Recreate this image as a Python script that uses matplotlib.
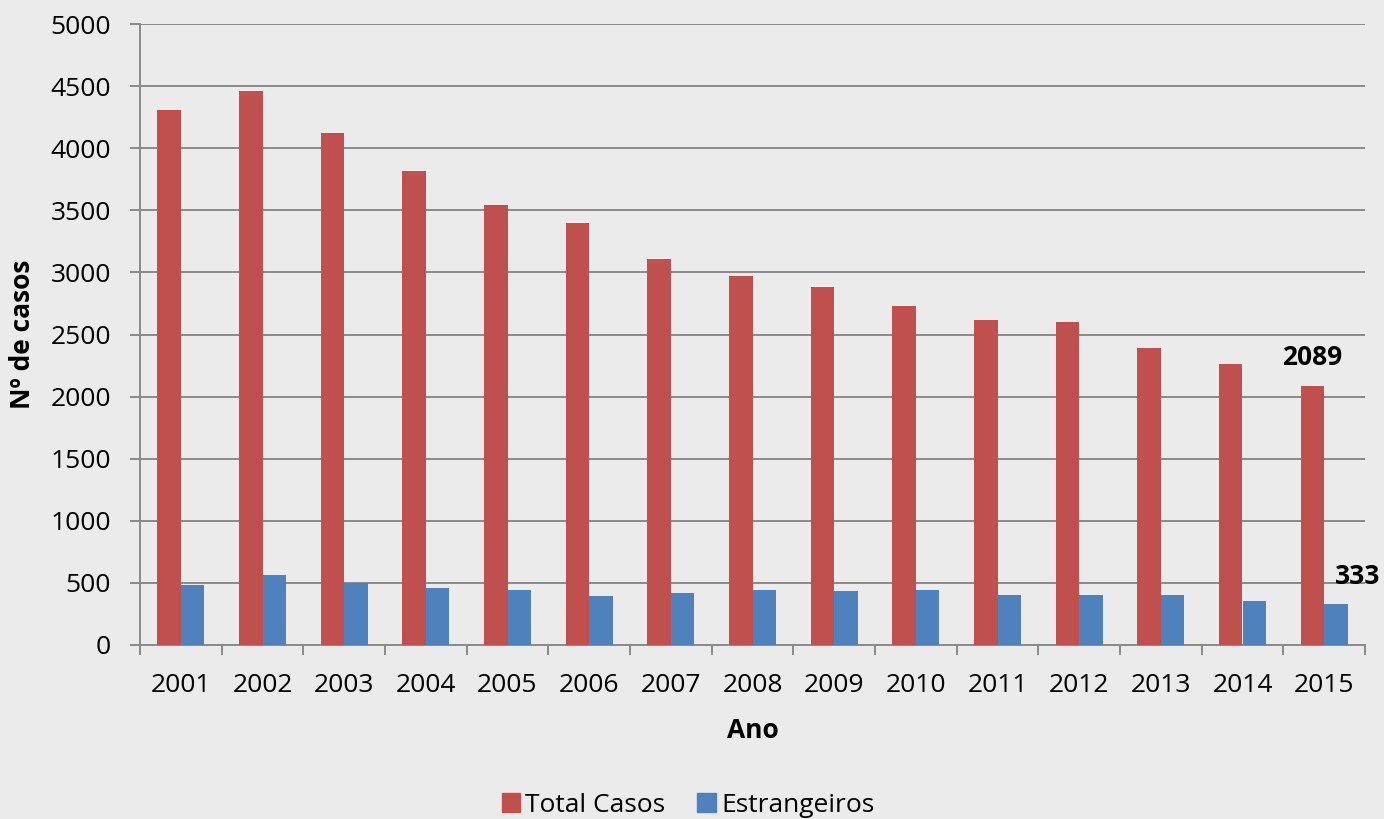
import numpy as np
import matplotlib
matplotlib.use("Agg")
import matplotlib.pyplot as plt
from matplotlib.patches import Patch

# data
anos = ["2001", "2002", "2003", "2004", "2005", "2006", "2007", "2008",
        "2009", "2010", "2011", "2012", "2013", "2014", "2015"]
total_casos = [4306, 4460, 4120, 3818, 3545, 3398, 3108, 2970, 2882, 2728,
               2615, 2600, 2392, 2264, 2089]
estrangeiros = [485, 565, 500, 458, 442, 395, 420, 442, 436, 442,
                404, 401, 404, 355, 333]

plt.rcParams["font.family"] = ["Open Sans", "DejaVu Sans"]

bg = "#ebebeb"
red = "#c0504d"
blue = "#4f81bd"
grid_c = "#8a8a8a"
fs = 19

fig = plt.figure(figsize=(13.84, 8.19), dpi=100, facecolor=bg)
ax = fig.add_axes([140 / 1384, 174 / 819, 1225 / 1384, 621 / 819])
ax.set_facecolor(bg)

x = np.arange(len(anos))
w = 0.286
ax.bar(x - w / 2, total_casos, width=w, color=red, label="Total Casos", zorder=3)
ax.bar(x + w / 2, estrangeiros, width=w, color=blue, label="Estrangeiros", zorder=3)

# value labels on the last year
ax.text(x[-1] - w / 2, total_casos[-1] + 226, str(total_casos[-1]),
        ha="center", va="center", fontsize=fs, fontweight="bold")
ax.text(x[-1] + w / 2 + 0.27, estrangeiros[-1] + 218, str(estrangeiros[-1]),
        ha="center", va="center", fontsize=fs, fontweight="bold")

ax.set_xlim(-0.5, len(anos) - 0.5)
ax.set_ylim(0, 5000)
ax.set_yticks(np.arange(0, 5001, 500))
ax.yaxis.grid(True, color=grid_c, linewidth=1.4, zorder=0)

# ticks at category boundaries, labels at the centres
ax.set_xticks(np.arange(-0.5, len(anos), 1.0))
ax.set_xticklabels([])
ax.set_xticks(x, minor=True)
ax.set_xticklabels(anos, minor=True)
ax.tick_params(axis="x", which="major", length=7, width=1.4, color=grid_c)
ax.tick_params(axis="x", which="minor", length=0, pad=20, labelsize=fs)
ax.tick_params(axis="y", length=7, width=1.4, color=grid_c, pad=14, labelsize=fs)

for s in ["top", "right"]:
    ax.spines[s].set_visible(False)
for s in ["left", "bottom"]:
    ax.spines[s].set_color(grid_c)
    ax.spines[s].set_linewidth(1.4)

ax.set_xlabel("Ano", fontsize=fs, fontweight="bold", labelpad=14)
ax.set_ylabel("Nº de casos", fontsize=fs, fontweight="bold", labelpad=10)

handles = [Patch(color=red, label="Total Casos"), Patch(color=blue, label="Estrangeiros")]
fig.legend(handles=handles, loc="center", bbox_to_anchor=(688 / 1384, 14 / 819), ncol=2,
           frameon=False, fontsize=fs, handlelength=0.7, handleheight=0.7,
           handletextpad=0.2, columnspacing=1.2)

fig.savefig("out.png", dpi=100, facecolor=bg)
